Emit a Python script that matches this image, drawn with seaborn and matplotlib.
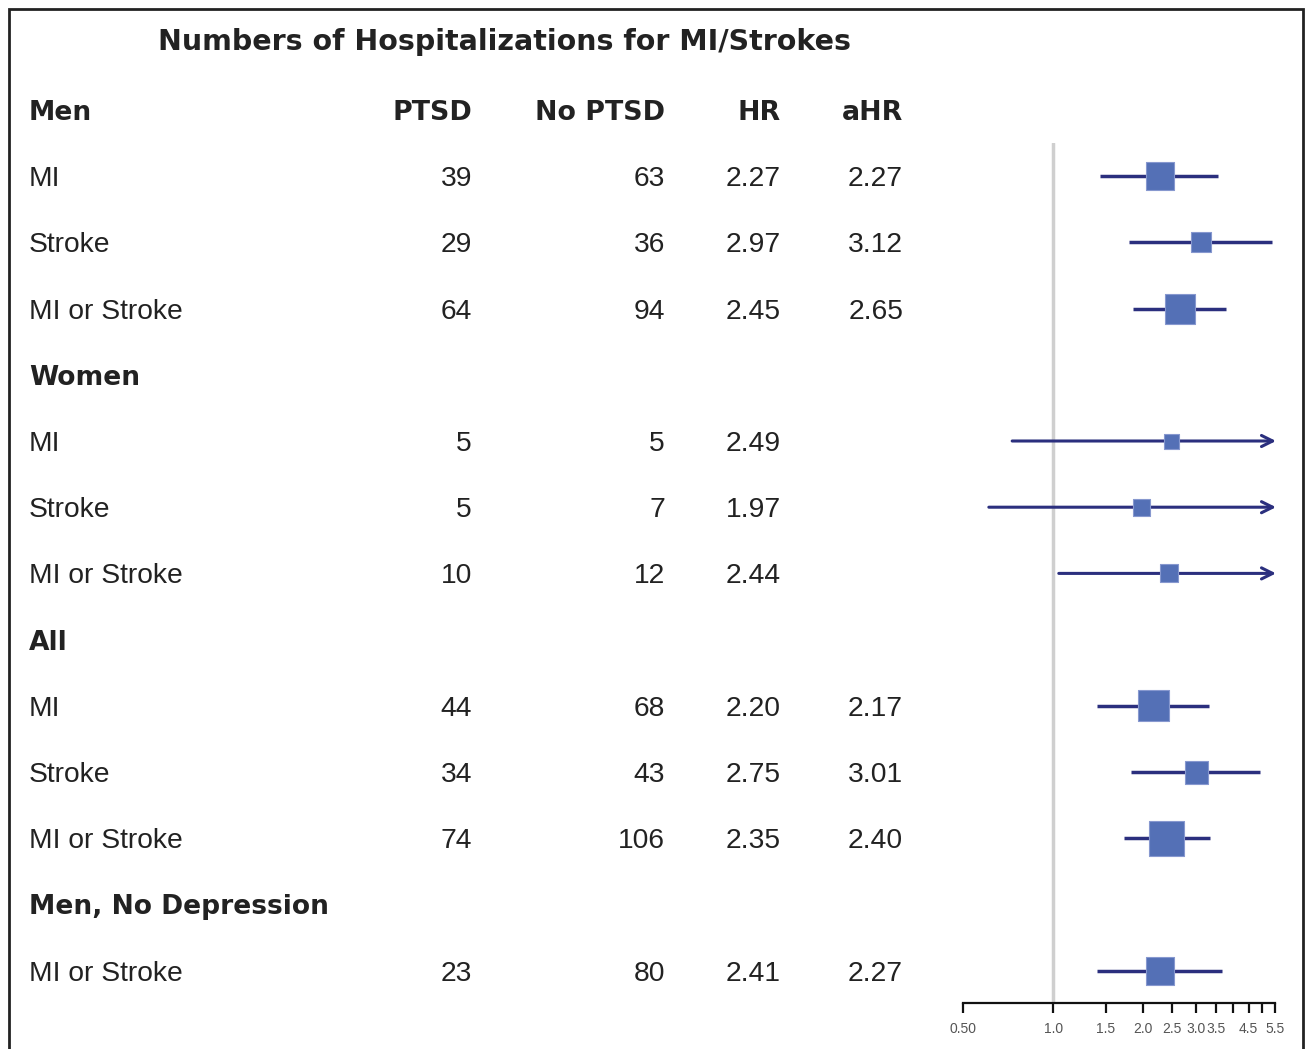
import numpy as np
import pandas as pd
import seaborn as sns
import matplotlib.pyplot as plt
from matplotlib.patches import Rectangle
from matplotlib.ticker import FixedLocator, FixedFormatter, NullLocator
from matplotlib.transforms import blended_transform_factory, ScaledTranslation

# data
title = 'Numbers of Hospitalizations for MI/Strokes'
columns = ['PTSD', 'No PTSD', 'HR', 'aHR']
groups = ['Men', 'Women', 'All', 'Men, No Depression']
group_rows = [3, 3, 3, 1]
outcomes = ['MI', 'Stroke', 'MI or Stroke',
            'MI', 'Stroke', 'MI or Stroke',
            'MI', 'Stroke', 'MI or Stroke',
            'MI or Stroke']
ptsd = [39, 29, 64, 5, 5, 10, 44, 34, 74, 23]
no_ptsd = [63, 36, 94, 5, 7, 12, 68, 43, 106, 80]
hr_text = ['2.27', '2.97', '2.45', '2.49', '1.97', '2.44', '2.20', '2.75', '2.35', '2.41']
ahr_text = ['2.27', '3.12', '2.65', '', '', '', '2.17', '3.01', '2.40', '2.27']
estimate = [2.27, 3.12, 2.65, 2.49, 1.97, 2.44, 2.17, 3.01, 2.40, 2.27]
lower = [1.44, 1.80, 1.85, 0.73, 0.61, 1.045, 1.40, 1.82, 1.72, 1.40]
upper = [3.55, 5.40, 3.78, 8.5, 6.4, 5.7, 3.33, 4.93, 3.35, 3.68]
weight = [28, 20, 30, 15, 17, 18, 31, 23, 35, 28]
tick_values = [0.5, 1.0, 1.5, 2.0, 2.5, 3.0, 3.5, 4.0, 4.5, 5.0, 5.5]
tick_labels = ['0.50', '1.0', '1.5', '2.0', '2.5', '3.0', '3.5', '', '4.5', '', '5.5']

sns.set_style('white')
plt.rcParams['font.family'] = ['Liberation Sans', 'DejaVu Sans']

W, H = 1305, 1049
fig = plt.figure(figsize=(W / 100, H / 100), dpi=100)

# layout rows: header row, then group header + its outcome rows
row_pos = []
header_pos = []
r = 1
for g, n in zip(groups, group_rows):
    if g != 'Men':
        header_pos.append(r)
        r += 1
    else:
        header_pos.append(0)
    for _ in range(n):
        row_pos.append(r)
        r += 1

df = pd.DataFrame({
    'row': row_pos, 'est': estimate, 'lo': lower, 'hi': upper,
    'area': (np.array(weight) * 0.72) ** 2,
})

xmin, xmax = 0.5, 5.56
ax = fig.add_axes([963 / W, 1 - 1003 / H, 313 / W, (1003 - 143) / H])
ax.set_xscale('log')
ax.set_xlim(xmin, xmax)
ax.set_ylim((1003 - 110) / 66.2, (143 - 110) / 66.2)

ax.axvline(1.0, color='#cfcfcf', lw=2.5, zorder=0)

line_col = '#2b2f7e'
for _, d in df.iterrows():
    if d['hi'] > xmax:
        ax.annotate('', xy=(xmax, d['row']), xytext=(d['lo'], d['row']),
                    arrowprops=dict(arrowstyle='->', lw=2.2, color=line_col,
                                    mutation_scale=20, shrinkA=0, shrinkB=0),
                    annotation_clip=False, zorder=2)
    else:
        ax.hlines(d['row'], d['lo'], d['hi'], color=line_col, lw=2.5, zorder=2)

sns.scatterplot(data=df, x='est', y='row', size='area',
                sizes=(df['area'].min(), df['area'].max()),
                marker='s', color='#5470b6', edgecolor='#8798cf', linewidth=0.8,
                legend=False, ax=ax, zorder=3, clip_on=False)

ax.xaxis.set_major_locator(FixedLocator(tick_values))
ax.xaxis.set_major_formatter(FixedFormatter(tick_labels))
ax.xaxis.set_minor_locator(NullLocator())
ax.tick_params(axis='x', bottom=True, direction='out', length=7, width=1.6,
               colors='#111', labelsize=10, labelcolor='#555', pad=7)
ax.tick_params(axis='y', left=False, labelleft=False)
ax.set_xlabel('')
ax.set_ylabel('')
for s in ['top', 'right', 'left']:
    ax.spines[s].set_visible(False)
ax.spines['bottom'].set_bounds(0.5, 5.5)
ax.spines['bottom'].set_linewidth(1.6)
ax.spines['bottom'].set_color('#111')

# table text
tr = blended_transform_factory(fig.transFigure, ax.transData) + \
    ScaledTranslation(0, -3 / 100, fig.dpi_scale_trans)
txt = '#222'
fs = 20.3
bold_font = ['DejaVu Sans']
col_x = [472, 665, 781, 903]
fig.text(504 / W, 1 - 42 / H, title, ha='center', va='center',
         fontsize=20.5, fontweight='bold', family=bold_font, color=txt)
for g, y in zip(groups, header_pos):
    ax.text(29 / W, y, g, transform=tr, ha='left', va='center', fontsize=19.1,
            fontweight='bold', family=bold_font, color=txt, clip_on=False)
for c, x in zip(columns, col_x):
    ax.text(x / W, 0, c, transform=tr, ha='right', va='center', fontsize=19.4,
            fontweight='bold', family=bold_font, color=txt, clip_on=False)
for i, y in enumerate(row_pos):
    vals = [str(ptsd[i]), str(no_ptsd[i]), hr_text[i], ahr_text[i]]
    ax.text(29 / W, y, outcomes[i], transform=tr, ha='left', va='center',
            fontsize=fs, color=txt, clip_on=False)
    for v, x in zip(vals, col_x):
        ax.text(x / W, y, v, transform=tr, ha='right', va='center',
                fontsize=fs, color=txt, clip_on=False)

fig.patches.append(Rectangle((9 / W, -0.05), (1303 - 9) / W, 1.05 - 9 / H,
                             transform=fig.transFigure, fill=False,
                             edgecolor='#222', lw=2))

fig.savefig('out.png', dpi=100)
